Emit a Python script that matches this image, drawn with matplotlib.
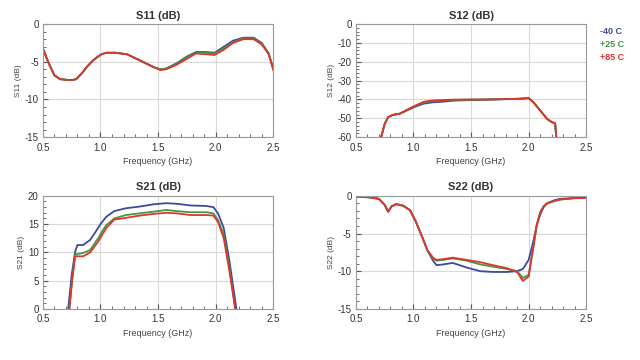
import matplotlib
matplotlib.use("Agg")
from matplotlib import pyplot as plt
from matplotlib.ticker import MultipleLocator

plt.rcParams["font.family"] = ["Liberation Sans", "DejaVu Sans"]
plt.rcParams["axes.unicode_minus"] = False

# S11 (dB)
s11_f = [0.50, 0.53, 0.56, 0.60, 0.65, 0.71, 0.76, 0.79, 0.84, 0.88, 0.93, 0.97, 1.01, 1.05,
         1.13, 1.23, 1.34, 1.46, 1.52, 1.57, 1.66, 1.75, 1.83, 1.92, 1.99, 2.07, 2.15, 2.24,
         2.33, 2.40, 2.46, 2.50]
s11_m40 = [-3.2, -4.4, -5.5, -6.8, -7.3, -7.4, -7.4, -7.3, -6.5, -5.7, -4.9, -4.4, -4.0, -3.8,
           -3.8, -4.0, -4.8, -5.7, -6.0, -5.9, -5.2, -4.3, -3.7, -3.7, -3.8, -3.0, -2.2, -1.8,
           -1.8, -2.5, -3.9, -5.9]
s11_p25 = [-3.2, -4.4, -5.5, -6.8, -7.3, -7.4, -7.4, -7.3, -6.5, -5.7, -4.9, -4.4, -4.0, -3.8,
           -3.8, -4.0, -4.8, -5.7, -6.0, -5.9, -5.3, -4.4, -3.8, -3.8, -3.9, -3.2, -2.4, -1.9,
           -1.9, -2.6, -3.9, -5.9]
s11_p85 = [-3.2, -4.4, -5.5, -6.8, -7.3, -7.4, -7.4, -7.3, -6.5, -5.7, -4.9, -4.4, -4.0, -3.8,
           -3.8, -4.0, -4.8, -5.7, -6.1, -6.0, -5.4, -4.6, -3.9, -4.0, -4.1, -3.4, -2.5, -2.0,
           -2.0, -2.7, -4.0, -6.1]

# S12 (dB)
s12_f = [0.72, 0.75, 0.78, 0.82, 0.88, 0.94, 1.01, 1.09, 1.17, 1.25, 1.35, 1.50, 1.64, 1.81,
         1.93, 2.00, 2.04, 2.10, 2.16, 2.20, 2.23, 2.24]
s12_m40 = [-60.0, -53.0, -49.4, -48.2, -47.6, -45.9, -44.0, -42.2, -41.5, -41.2, -40.6, -40.3,
           -40.1, -39.8, -39.6, -39.3, -41.4, -45.8, -50.3, -52.0, -52.6, -60.0]
s12_p25 = [-60.0, -53.0, -49.4, -48.2, -47.6, -45.8, -43.7, -41.6, -40.8, -40.5, -40.2, -40.1,
           -40.0, -39.8, -39.6, -39.3, -41.4, -45.8, -50.3, -52.0, -52.6, -60.0]
s12_p85 = [-60.0, -53.0, -49.4, -48.2, -47.5, -45.6, -43.4, -41.2, -40.5, -40.3, -40.1, -40.0,
           -40.0, -39.8, -39.6, -39.3, -41.4, -45.8, -50.3, -52.0, -52.6, -60.0]

# S21 (dB)
s21_f_m40 = [0.72, 0.75, 0.78, 0.80, 0.85, 0.91, 0.96, 1.00, 1.05, 1.12, 1.22, 1.34, 1.46, 1.57,
             1.66, 1.78, 1.92, 1.98, 2.02, 2.07, 2.12, 2.18]
s21_m40 = [0.0, 6.0, 10.1, 11.3, 11.3, 12.2, 13.7, 15.0, 16.3, 17.3, 17.8, 18.1, 18.5, 18.7,
           18.6, 18.3, 18.2, 18.0, 16.9, 14.3, 8.4, 0.0]
s21_f = [0.73, 0.755, 0.78, 0.80, 0.85, 0.91, 0.98, 1.02, 1.05, 1.12, 1.22, 1.34, 1.46, 1.57,
         1.66, 1.78, 1.92, 1.98, 2.02, 2.07, 2.12, 2.17]
s21_p25 = [0.0, 5.5, 9.6, 9.7, 9.9, 10.4, 12.5, 13.9, 14.8, 16.0, 16.6, 16.9, 17.2, 17.5,
           17.3, 17.1, 17.1, 16.9, 15.7, 13.1, 7.2, 0.0]
s21_p85 = [0.0, 5.2, 9.3, 9.3, 9.3, 10.0, 11.9, 13.3, 14.3, 15.8, 16.1, 16.5, 16.8, 17.0,
           16.9, 16.6, 16.6, 16.5, 15.4, 12.5, 6.6, 0.0]

# S22 (dB)
s22_f = [0.50, 0.62, 0.70, 0.75, 0.78, 0.81, 0.85, 0.91, 0.97, 1.02, 1.08, 1.12, 1.17, 1.20,
         1.26, 1.34, 1.46, 1.58, 1.69, 1.81, 1.90, 1.95, 2.00, 2.04, 2.07, 2.10, 2.13, 2.16,
         2.22, 2.27, 2.40, 2.50]
s22_m40 = [-0.1, -0.2, -0.4, -1.2, -2.1, -1.4, -1.1, -1.3, -1.9, -3.4, -5.6, -7.2, -8.6, -9.2,
           -9.1, -8.9, -9.5, -10.0, -10.1, -10.1, -10.0, -9.7, -8.5, -6.1, -3.9, -2.5, -1.5, -1.0,
           -0.6, -0.4, -0.3, -0.3]
s22_p25 = [-0.1, -0.2, -0.4, -1.2, -2.1, -1.4, -1.1, -1.3, -1.9, -3.4, -5.6, -7.2, -8.3, -8.6,
           -8.5, -8.3, -8.6, -9.1, -9.4, -9.7, -10.0, -10.9, -10.5, -6.9, -3.9, -2.2, -1.4, -1.0,
           -0.7, -0.5, -0.3, -0.3]
s22_p85 = [-0.1, -0.2, -0.4, -1.2, -2.1, -1.4, -1.1, -1.3, -1.9, -3.4, -5.6, -7.2, -8.2, -8.5,
           -8.4, -8.2, -8.5, -8.8, -9.2, -9.6, -10.1, -11.3, -10.7, -6.9, -3.9, -2.2, -1.4, -1.0,
           -0.7, -0.5, -0.3, -0.3]

temps = ["-40 C", "+25 C", "+85 C"]
colors = ["#3b4a9c", "#3d9a45", "#e0342c"]

panels = [
    ("S11 (dB)", [(s11_f, s11_m40), (s11_f, s11_p25), (s11_f, s11_p85)], (-15, 0), 5, 1,
     [0.067, 0.619, 0.360, 0.314]),
    ("S12 (dB)", [(s12_f, s12_m40), (s12_f, s12_p25), (s12_f, s12_p85)], (-60, 0), 10, 2,
     [0.556, 0.619, 0.360, 0.314]),
    ("S21 (dB)", [(s21_f_m40, s21_m40), (s21_f, s21_p25), (s21_f, s21_p85)], (0, 20), 5, 1,
     [0.067, 0.142, 0.360, 0.314]),
    ("S22 (dB)", [(s22_f, s22_m40), (s22_f, s22_p25), (s22_f, s22_p85)], (-15, 0), 5, 1,
     [0.556, 0.142, 0.360, 0.314]),
]

fig = plt.figure(figsize=(6.4, 3.6), dpi=100)
for title, series, ylim, ymaj, ymin, pos in panels:
    ax = fig.add_axes(pos)
    for (f, y), c in zip(series, colors):
        ax.plot(f, y, color=c, lw=1.3)
    ax.set_xlim(0.5, 2.5)
    ax.set_ylim(*ylim)
    ax.xaxis.set_major_locator(MultipleLocator(0.5))
    ax.xaxis.set_minor_locator(MultipleLocator(0.1))
    ax.yaxis.set_major_locator(MultipleLocator(ymaj))
    ax.yaxis.set_minor_locator(MultipleLocator(ymin))
    ax.xaxis.set_major_formatter(plt.FormatStrFormatter("%.1f"))
    ax.grid(True, which="major", color="#d8d8d8", lw=0.8)
    ax.tick_params(which="both", direction="in", length=2.5, color="#555555",
                   labelsize=7, labelcolor="#333333")
    ax.tick_params(which="major", length=3.5)
    ax.tick_params(axis="x", pad=4)
    ax.tick_params(axis="y", pad=3)
    for s in ax.spines.values():
        s.set_color("#9a9a9a")
        s.set_linewidth(0.8)
    ax.set_title(title, fontsize=8, fontweight="bold", color="#333333", pad=4)
    ax.set_xlabel("Frequency (GHz)", fontsize=6.5, color="#444444", labelpad=3)
    ax.set_ylabel(title.split()[0] + " (dB)", fontsize=6, color="#444444", labelpad=2)

for i, (t, c) in enumerate(zip(temps, colors)):
    fig.text(0.937, 0.905 - i * 0.036, t, color=c, fontsize=6.5, fontweight="bold")

fig.savefig("out.png", dpi=100)
